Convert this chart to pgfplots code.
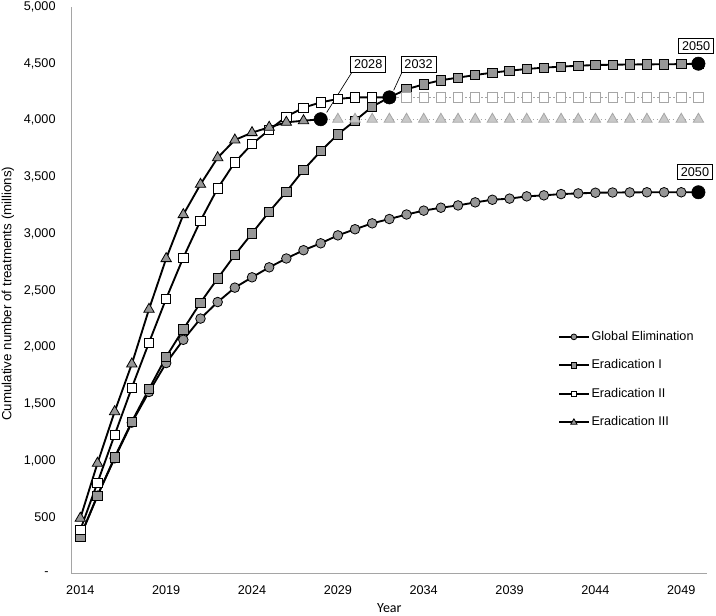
\documentclass[border=0pt]{standalone}
\usepackage{fontspec}
\setmainfont{Liberation Sans}
\newfontfamily\carlito{Carlito}
\usepackage{pgfplots}
\pgfplotsset{compat=1.18}

\definecolor{mk}{RGB}{150,150,150}
\definecolor{dotln}{RGB}{166,166,166}
\definecolor{dotfill}{RGB}{200,200,200}
\definecolor{axgray}{RGB}{165,165,165}

\begin{document}
\begin{tikzpicture}
\begin{axis}[
  scale only axis, width=476.5pt, height=425.25pt,
  xmin=2013.5, xmax=2050.5, ymin=0, ymax=5000,
  axis lines=left,
  axis line style={-, draw=axgray, line width=0.8pt},
  major tick length=0pt,
  xtick={2014,2019,...,2049},
  ytick={0,500,...,5000},
  yticklabels={{-\hphantom{0}},{500},{1,000},{1,500},{2,000},{2,500},{3,000},{3,500},{4,000},{4,500},{5,000}},
  /pgf/number format/1000 sep=,
  /pgf/number format/assume math mode=true,
  x tick label style={yshift=-5pt},
  y tick label style={xshift=-8.6pt},
  tick label style={font=\fontsize{9.5}{11}\selectfont},
  xlabel={\carlito Year},
  xlabel style={at={(axis description cs:0.5,-0.0605)}, anchor=center, font=\fontsize{10.5}{12}\selectfont},
  ylabel={Cumulative number of treatments (millions)},
  ylabel style={at={(axis description cs:-0.1003,0.4944)}, anchor=center, font=\fontsize{10}{12}\selectfont},
  clip=false,
  legend cell align=left,
  legend style={draw=none, fill=none, at={(rel axis cs:0.7655,0.432)}, anchor=north west,
    row sep=10pt, inner sep=0pt, font=\fontsize{9.5}{11}\selectfont, nodes={inner sep=1.5pt}},
  legend image code/.code={\draw[mark repeat=2, mark phase=2, #1, /tikz/every mark/.append style={scale=0.6}]
    plot coordinates {(0pt,0pt) (11pt,0pt) (22pt,0pt)};},
]

% Global Elimination
\addplot[black, line width=1.4pt, mark=*, mark size=3.6pt,
  mark options={fill=mk, draw=black, line width=0.6pt}] table {
x y
2014 330
2015 690
2016 1020
2017 1335
2018 1605
2019 1860
2020 2065
2021 2252
2022 2398
2023 2525
2024 2616
2025 2704
2026 2782
2027 2855
2028 2916
2029 2986
2030 3040
2031 3092
2032 3130
2033 3170
2034 3204
2035 3230
2036 3250
2037 3277
2038 3300
2039 3310
2040 3330
2041 3339
2042 3350
2043 3356
2044 3362
2045 3364
2046 3365
2047 3366
2048 3366
2049 3366
2050 3366
};
\addlegendentry{Global Elimination}

% Eradication I
\addplot[black, line width=1.4pt, mark=square*, mark size=3.5pt,
  mark options={fill=mk, draw=black, line width=0.6pt}] table {
x y
2014 329
2015 691
2016 1029
2017 1343
2018 1631
2019 1914
2020 2158
2021 2393
2022 2606
2023 2813
2024 3004
2025 3194
2026 3371
2027 3563
2028 3728
2029 3877
2030 3997
2031 4121
2032 4203
2033 4274
2034 4318
2035 4354
2036 4377
2037 4400
2038 4421
2039 4438
2040 4453
2041 4465
2042 4474
2043 4482
2044 4488
2045 4491
2046 4493
2047 4494
2048 4495
2049 4496
2050 4500
};
\addlegendentry{Eradication I}

% Eradication II
\addplot[black, line width=1.4pt, mark=square*, mark size=3.5pt,
  mark options={fill=white, draw=black, line width=0.6pt}] table {
x y
2014 388
2015 805
2016 1226
2017 1643
2018 2040
2019 2428
2020 2790
2021 3115
2022 3401
2023 3630
2024 3792
2025 3915
2026 4033
2027 4112
2028 4159
2029 4189
2030 4203
2031 4203
2032 4203
};
\addlegendentry{Eradication II}

% Eradication III
\addplot[black, line width=1.4pt, mark=triangle*, mark size=4.5pt,
  mark options={fill=mk, draw=black, line width=0.6pt}] table {
x y
2014 491
2015 976
2016 1431
2017 1852
2018 2334
2019 2781
2020 3169
2021 3436
2022 3671
2023 3827
2024 3892
2025 3939
2026 3983
2027 3997
2028 4010
};
\addlegendentry{Eradication III}

% Eradication II after target year
\addplot[forget plot, dotln, line width=1pt, dash pattern=on 1pt off 2pt, mark=square*, mark size=3.5pt,
  mark options={solid, fill=white, draw=dotln, line width=0.6pt}] table {
x y
2032 4203
2033 4203
2034 4203
2035 4203
2036 4203
2037 4203
2038 4203
2039 4203
2040 4203
2041 4203
2042 4203
2043 4203
2044 4203
2045 4203
2046 4203
2047 4203
2048 4203
2049 4203
2050 4203
};

% Eradication III after target year
\addplot[forget plot, dotln, line width=1pt, dash pattern=on 1pt off 2pt, mark=triangle*, mark size=4.5pt,
  mark options={solid, fill=dotfill, draw=dotln, line width=0.6pt}] table {
x y
2028 4010
2029 4010
2030 4010
2031 4010
2032 4010
2033 4010
2034 4010
2035 4010
2036 4010
2037 4010
2038 4010
2039 4010
2040 4010
2041 4010
2042 4010
2043 4010
2044 4010
2045 4010
2046 4010
2047 4010
2048 4010
2049 4010
2050 4010
};

% target years
\addplot[forget plot, only marks, mark=*, mark size=5pt, black] coordinates {
(2028,4010) (2032,4203) (2050,4500) (2050,3366)
};

\draw[black, line width=0.5pt] (axis cs:2029.8,4420) -- (axis cs:2028.35,4070);
\draw[black, line width=0.5pt] (axis cs:2032.72,4420) -- (axis cs:2032.25,4265);
\tikzset{callout/.style={draw=black, fill=white, line width=0.5pt, inner sep=2.5pt, font=\fontsize{9.5}{11}\selectfont}}
\node[callout] at (axis cs:2030.77,4497) {2028};
\node[callout] at (axis cs:2033.7,4493) {2032};
\node[callout] at (axis cs:2049.87,4656) {2050};
\node[callout] at (axis cs:2049.8,3545) {2050};
\end{axis}
\pgfresetboundingbox
\path ([xshift=-53.8pt,yshift=-31.5pt]current axis.south west) rectangle ([xshift=6.75pt,yshift=5.25pt]current axis.north east);
\end{tikzpicture}
\end{document}
